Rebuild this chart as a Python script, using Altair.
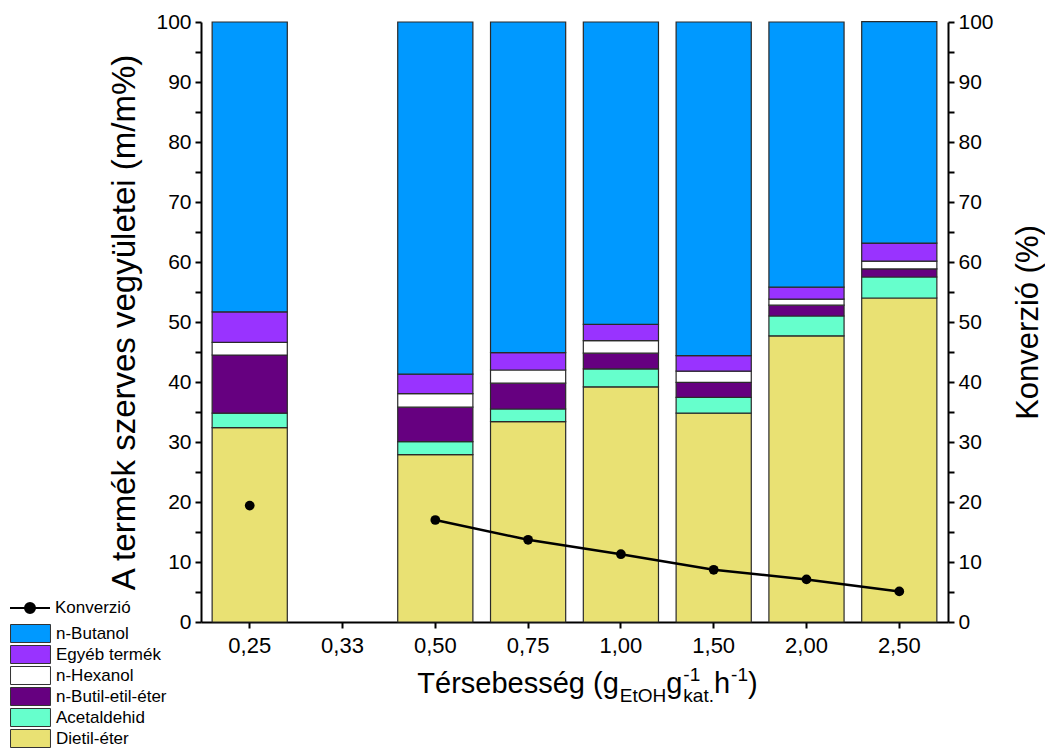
import altair as alt
import pandas as pd

# ---------------- data ----------------
cats = ["0,25", "0,33", "0,50", "0,75", "1,00", "1,50", "2,00", "2,50"]
stack_series = ["Dietil-éter", "Acetaldehid", "n-Butil-etil-éter", "n-Hexanol", "Egyéb termék", "n-Butanol"]
legend_series = ["n-Butanol", "Egyéb termék", "n-Hexanol", "n-Butil-etil-éter", "Acetaldehid", "Dietil-éter"]
legend_colors = ["#0099FF", "#9933FF", "#FFFFFF", "#660080", "#66FFCC", "#E9E173"]

dietil = [32.4, None, 27.9, 33.4, 39.2, 34.8, 47.7, 54.0]
acetaldehid = [2.4, None, 2.15, 2.1, 3.0, 2.65, 3.3, 3.5]
butil_etil = [9.7, None, 5.75, 4.3, 2.6, 2.5, 1.8, 1.35]
hexanol = [2.1, None, 2.25, 2.2, 2.1, 1.85, 1.0, 1.3]
egyeb = [5.1, None, 3.25, 2.9, 2.7, 2.6, 2.0, 3.0]
butanol = [48.3, None, 58.7, 55.1, 50.4, 55.6, 44.2, 36.9]
konverzio = [19.4, None, 17.0, 13.7, 11.3, 8.7, 7.1, 5.1]

left_title = "A termék szerves vegyületei (m/m%)"
right_title = "Konverzió (%)"
# x-axis title pieces: (text, size kind, baseline shift kind, advance?)
xtitle_pieces = [
    ("Térsebesség (g", "main", "base", True),
    ("EtOH", "small", "sub", True),
    ("g", "main", "base", True),
    ("-1", "small", "sup", False),
    ("kat.", "small", "sub", True),
    ("h", "main", "base", True),
    ("-1", "small", "sup", True),
    (")", "main", "base", True),
]

# ---------------- tables ----------------
values = [dietil, acetaldehid, butil_etil, hexanol, egyeb, butanol]
rows = []
for si, (name, vals) in enumerate(zip(stack_series, values)):
    for c, v in zip(cats, vals):
        if v is not None:
            rows.append({"x": c, "s": name, "v": v, "o": si})
bars_df = pd.DataFrame(rows)
conv_df = pd.DataFrame({"x": cats, "k": konverzio, "lab": ["Konverzió"] * len(cats)})

FONT = "Liberation Sans"
W, H = 747, 600

xscale = alt.Scale(domain=cats, paddingInner=0.19, paddingOuter=0.12)
xenc = alt.X("x:N", sort=cats, scale=xscale,
             axis=alt.Axis(title=None, labelAngle=0, labelFontSize=22, labelFont=FONT,
                           labelColor="black", tickSize=6, tickWidth=2, tickColor="black",
                           domainWidth=2, domainColor="black", labelPadding=7, grid=False))

yvals = list(range(0, 101, 5))
common_axis = dict(values=yvals, labelExpr="datum.value % 10 === 0 ? datum.label : ''",
                   labelFontSize=21, labelFont=FONT, labelColor="black",
                   tickSize=6, tickWidth=2, tickColor="black", domainWidth=2,
                   domainColor="black", grid=False, titleFont=FONT,
                   titleFontWeight="normal", titleColor="black", labelPadding=4)

bars = alt.Chart(bars_df).mark_bar(stroke="#2a2a2a", strokeWidth=1.2).encode(
    x=xenc,
    y=alt.Y("v:Q", stack="zero", scale=alt.Scale(domain=[0, 100], nice=False),
            axis=alt.Axis(title=left_title, orient="left", titlePadding=14,
                          titleFontSize=33, **common_axis)),
    fill=alt.Fill("s:N", scale=alt.Scale(domain=legend_series, range=legend_colors),
                  legend=alt.Legend(title=None, orient="none", legendX=-180, legendY=602,
                                    symbolType="M-2.22,-1H2.22V1H-2.22Z", symbolSize=324,
                                    symbolStrokeColor="#333333", symbolStrokeWidth=1,
                                    labelFontSize=17, labelFont=FONT, labelColor="black",
                                    rowPadding=-2, labelOffset=16, padding=0,
                                    symbolOpacity=1)),
    order=alt.Order("o:Q"),
)

line = alt.Chart(conv_df).transform_filter(
    "datum.x != '0,25' && isValid(datum.k)"
).mark_line(strokeWidth=2.5).encode(
    x=xenc,
    y=alt.Y("k:Q", scale=alt.Scale(domain=[0, 100], nice=False),
            axis=alt.Axis(title=right_title, orient="right", titlePadding=20,
                          titleAngle=270, titleBaseline="top",
                          titleFontSize=31, **common_axis)),
    stroke=alt.Stroke("lab:N", scale=alt.Scale(domain=["Konverzió"], range=["black"]),
                      legend=alt.Legend(title=None, orient="none", legendX=-182, legendY=575,
                                        symbolType="M-2,0H2M0.5,0A0.5,0.5,0,1,1,-0.5,0A0.5,0.5,0,1,1,0.5,0Z",
                                        symbolSize=400, symbolStrokeWidth=2,
                                        symbolFillColor="black",
                                        labelFontSize=17, labelFont=FONT, labelColor="black",
                                        labelOffset=14, padding=0)),
)

points = alt.Chart(conv_df).transform_filter("isValid(datum.k)").mark_circle(
    size=95, color="black", opacity=1
).encode(
    x=xenc,
    y=alt.Y("k:Q", scale=alt.Scale(domain=[0, 100], nice=False), axis=None),
)

# ---------------- composed x-axis title ----------------
widths = {"T": 611, "é": 556, "r": 333, "s": 500, "e": 556, "b": 556, "g": 556, " ": 278,
          "(": 333, ")": 333, "E": 667, "t": 278, "O": 778, "H": 722, "-": 333, "1": 556,
          "k": 500, "a": 556, ".": 278, "h": 556}
sizes = {"main": 29, "small": 19}
shifts = {"base": 0, "sub": 9, "sup": -12}


def tw(t, fs):
    return sum(widths.get(ch, 556) for ch in t) * fs / 1000.0


total = 0.0
pending = 0.0
for t, sk, bk, adv in xtitle_pieces:
    w = tw(t, sizes[sk])
    pending = max(pending, w)
    if adv:
        total += pending
        pending = 0.0

cx = 385.0
base_y = 671.0
cur = cx - total / 2
pending = 0.0
texts = []
for t, sk, bk, adv in xtitle_pieces:
    fs = sizes[sk]
    texts.append(
        alt.Chart(pd.DataFrame({"t": [t]})).mark_text(
            align="left", baseline="alphabetic", fontSize=fs, font=FONT, color="black"
        ).encode(x=alt.value(cur + (1 if sk == "small" else 0)),
                 y=alt.value(base_y + shifts[bk]), text="t:N")
    )
    pending = max(pending, tw(t, fs))
    if adv:
        cur += pending + (1 if sk == "small" else 0)
        pending = 0.0

chart = alt.layer(bars, line, points, *texts).resolve_scale(
    y="independent"
).properties(
    width=W, height=H,
    padding={"left": 193, "top": 14, "right": 97, "bottom": 130},
    autosize=alt.AutoSizeParams(type="none"),
).configure_view(stroke=None)

chart.save("out.html", embed_options={"renderer": "svg", "actions": False})
